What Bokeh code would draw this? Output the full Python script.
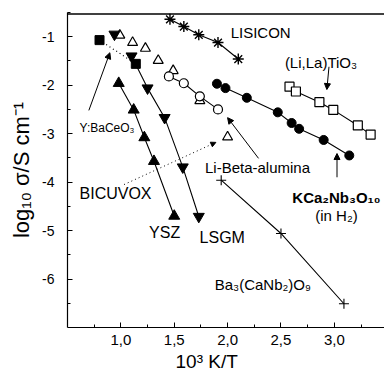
from bokeh.plotting import figure
from bokeh.models import FixedTicker, Label, Arrow, NormalHead, CustomJSTickFormatter, Title
from bokeh.embed import file_html
from bokeh.resources import INLINE

# ---- data (x = 10^3 K / T, y = log10 sigma / S cm^-1) ----
lisicon_x = [1.46, 1.59, 1.73, 1.91, 2.10]
lisicon_y = [-0.64, -0.79, -0.96, -1.12, -1.46]

llto_x = [2.58, 2.64, 2.86, 2.99, 3.22, 3.34]
llto_y = [-2.03, -2.13, -2.35, -2.51, -2.83, -3.02]

kca_x = [1.90, 1.98, 2.18, 2.47, 2.60, 2.67, 2.90, 3.14]
kca_y = [-1.97, -2.06, -2.26, -2.56, -2.78, -2.90, -3.13, -3.45]

libeta_x = [1.45, 1.59, 1.74, 1.91]
libeta_y = [-1.82, -1.96, -2.23, -2.50]

bicuvox_x = [0.99, 1.11, 1.23, 1.35, 1.49, 1.74, 2.00]
bicuvox_y = [-0.97, -1.12, -1.24, -1.49, -1.70, -2.32, -3.07]

bace_x = [0.80, 1.14]
bace_y = [-1.07, -1.56]

lsgm_x = [0.94, 1.10, 1.25, 1.41, 1.58, 1.73]
lsgm_y = [-0.95, -1.40, -2.06, -2.67, -3.69, -4.71]

ysz_x = [0.98, 1.12, 1.22, 1.31, 1.50]
ysz_y = [-1.96, -2.51, -3.08, -3.57, -4.70]

ba_x = [1.94, 2.50, 3.09]
ba_y = [-3.96, -5.06, -6.51]

x_ticks = [1.0, 1.5, 2.0, 2.5, 3.0]
x_tick_labels = ["1,0", "1,5", "2,0", "2,5", "3,0"]
x_minor = [0.75, 1.25, 1.75, 2.25, 2.75, 3.25]
y_ticks = [-6, -5, -4, -3, -2, -1]
y_tick_labels = ["-6", "-5", "-4", "-3", "-2", "-1"]
y_minor = [-6.5, -5.5, -4.5, -3.5, -2.5, -1.5, -0.5]

# text annotations: (text, x, y, size, style)
texts = [
    ("LISICON", 2.31, -0.92, "15px", "normal"),
    ("(Li,La)TiO\u2083", 2.875, -1.53, "15px", "normal"),
    ("Y:BaCeO\u2083", 0.87, -2.89, "12px", "normal"),
    ("Li-Beta-alumina", 2.28, -3.70, "15px", "normal"),
    ("KCa\u2082Nb\u2083O\u2081\u2080", 3.02, -4.31, "15px", "bold"),
    ("(in H\u2082)", 3.02, -4.68, "15px", "normal"),
    ("BICUVOX", 0.95, -4.23, "16px", "normal"),
    ("YSZ", 1.41, -5.03, "16px", "normal"),
    ("LSGM", 1.95, -5.14, "16px", "normal"),
    ("Ba\u2083(CaNb\u2082)O\u2089", 2.33, -6.12, "15px", "normal"),
]
# arrows: (x_start, y_start, x_end, y_end, dash)
arrows = [
    (0.70, -2.52, 0.897, -1.33, "solid"),
    (2.29, -3.51, 2.00, -2.67, "solid"),
    (2.95, -1.62, 2.93, -2.09, "solid"),
    (3.025, -3.90, 3.025, -3.41, "solid"),
    (1.03, -4.05, 1.89, -3.18, "dotted"),
]

FONT = "Liberation Sans"
FMT = "const i = tv.findIndex(t => Math.abs(t - tick) < 1e-6); return i >= 0 ? labs[i] : '';"
X_RANGE = (0.5, 3.47)
Y_RANGE = (-7, -0.5)

p = figure(width=384, height=378, x_range=X_RANGE, y_range=Y_RANGE,
           output_backend="svg", toolbar_location=None,
           min_border_left=67, min_border_right=0, min_border_top=12, min_border_bottom=51)
p.outline_line_color = None
p.grid.visible = False
p.background_fill_color = "white"
p.border_fill_color = "white"

for ax in (p.xaxis[0], p.yaxis[0]):
    ax.axis_line_color = "black"
    ax.axis_line_width = 1.2
    ax.major_tick_in = 5
    ax.major_tick_out = 0
    ax.minor_tick_in = 3
    ax.minor_tick_out = 0
    ax.major_tick_line_color = "black"
    ax.minor_tick_line_color = "black"
    ax.major_label_text_font = FONT
    ax.major_label_text_font_size = "14px"
    ax.major_label_text_color = "black"

p.xaxis.ticker = FixedTicker(ticks=x_ticks, minor_ticks=x_minor)
p.xaxis.formatter = CustomJSTickFormatter(args=dict(tv=x_ticks, labs=x_tick_labels), code=FMT)
p.xaxis.major_label_standoff = 7
p.xaxis.major_label_text_font_size = "15px"

p.yaxis.ticker = FixedTicker(ticks=y_ticks, minor_ticks=y_minor)
p.yaxis.formatter = CustomJSTickFormatter(args=dict(tv=y_ticks, labs=y_tick_labels), code=FMT)
p.yaxis.major_label_standoff = 13
p.yaxis.axis_label = "log\u2081\u2080 \u03c3/S cm\u207b\u00b9"
p.yaxis.axis_label_text_font = FONT
p.yaxis.axis_label_text_font_size = "22px"
p.yaxis.axis_label_text_font_style = "normal"
p.yaxis.axis_label_text_color = "black"
p.yaxis.axis_label_standoff = 5

# top frame line, drawn inside the frame from the range limits
top_y = Y_RANGE[1] - 0.03
p.line([X_RANGE[0], X_RANGE[1]], [top_y, top_y], color="black", line_width=1.5)

# x-axis title placed as a bottom title so that it can be shifted left
p.add_layout(Title(text="10\u00b3 K/T", align="left", offset=108, standoff=3,
                   text_font=FONT, text_font_size="19px", text_font_style="normal",
                   text_color="black"), "below")

LW = 1.1
# lines
p.line(lisicon_x, lisicon_y, color="black", line_width=LW)
p.line(llto_x, llto_y, color="black", line_width=LW)
p.line(kca_x, kca_y, color="black", line_width=LW)
p.line(libeta_x, libeta_y, color="black", line_width=LW)
p.line(ysz_x, ysz_y, color="black", line_width=LW)
p.line(lsgm_x[1:], lsgm_y[1:], color="black", line_width=LW)
p.line(ba_x, ba_y, color="black", line_width=LW)
p.line(bace_x, bace_y, color="black", line_width=1.2, line_dash="1 3")

# markers
p.scatter(lisicon_x, lisicon_y, marker="asterisk", size=11, line_color="black", line_width=1.4)
p.scatter(llto_x, llto_y, marker="square", size=9, fill_color="white", line_color="black", line_width=1.2)
p.scatter(kca_x, kca_y, marker="circle", size=9, fill_color="black", line_color="black")
p.scatter(bicuvox_x, bicuvox_y, marker="triangle", size=10, fill_color="white", line_color="black", line_width=1.2)
p.scatter(libeta_x, libeta_y, marker="circle", size=9, fill_color="white", line_color="black", line_width=1.2)
p.scatter(bace_x, bace_y, marker="square", size=9, fill_color="black", line_color="black")
p.scatter(lsgm_x, lsgm_y, marker="inverted_triangle", size=11, fill_color="black", line_color="black")
p.scatter(ysz_x, ysz_y, marker="triangle", size=11, fill_color="black", line_color="black")
p.scatter(ba_x, ba_y, marker="cross", size=10, line_color="black", line_width=1.1)

for (xs, ys, xe, ye, dash) in arrows:
    head = NormalHead(size=6 if dash == "solid" else 5, fill_color="black", line_color="black")
    p.add_layout(Arrow(end=head, x_start=xs, y_start=ys, x_end=xe, y_end=ye,
                       line_color="black", line_width=1.0,
                       line_dash="solid" if dash == "solid" else "1 3"))

for (t, x, y, size, style) in texts:
    p.add_layout(Label(x=x, y=y, text=t, text_font=FONT, text_font_size=size,
                       text_font_style=style, text_align="center", text_baseline="middle",
                       text_color="black"))

open("out.html", "w").write(file_html(p, INLINE))
